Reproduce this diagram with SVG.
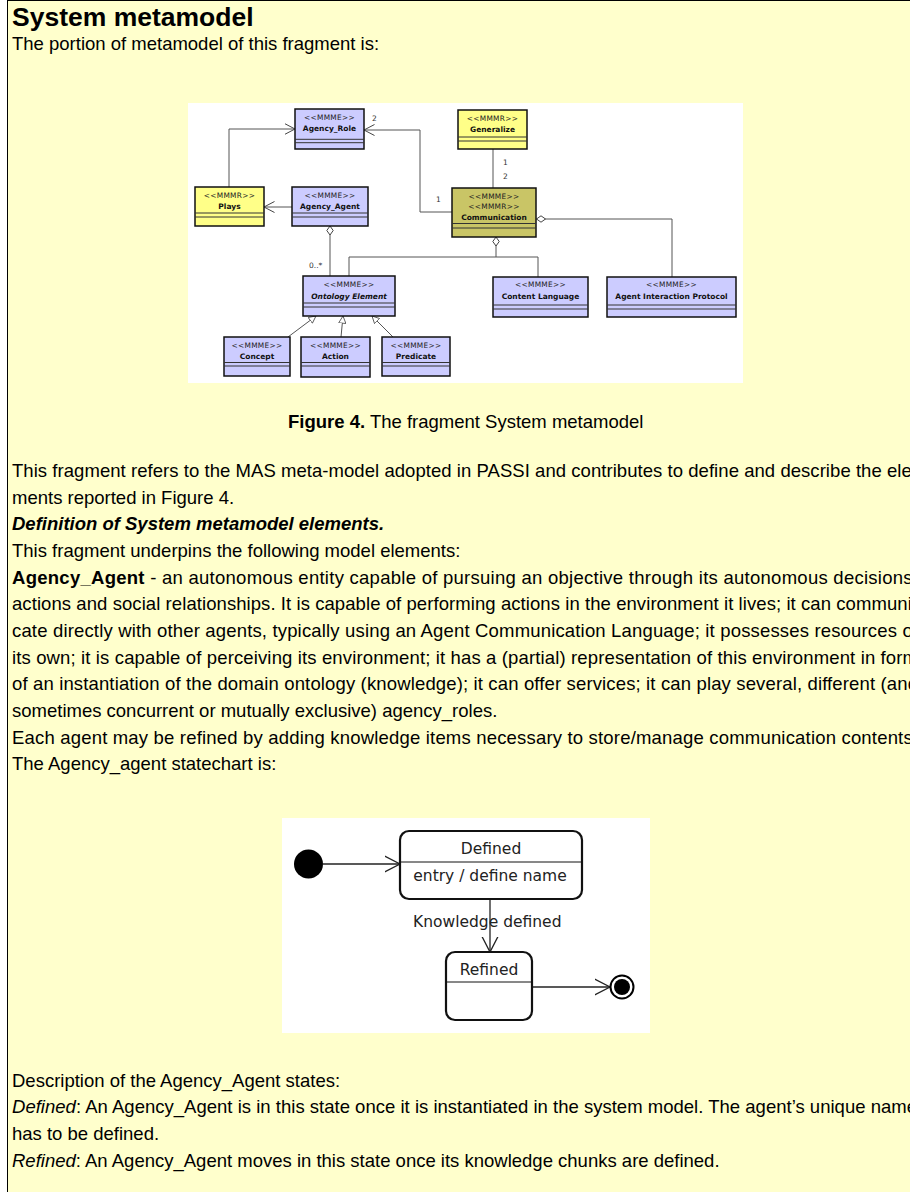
<svg xmlns="http://www.w3.org/2000/svg" width="910" height="1192" viewBox="0 0 910 1192">
<style>
.body{font-family:"Liberation Sans",Arial,Helvetica,sans-serif;font-size:18.5px;fill:#000}
.title{font-family:"Liberation Sans",Arial,Helvetica,sans-serif;font-size:26.5px;font-weight:bold;fill:#000}
.b{font-weight:bold}
.i{font-style:italic}
.box{stroke:#111;stroke-width:1.5}
.mmme{fill:#ccccff}
.mmmr{fill:#ffff88}
.comm{fill:#c9c566}
.div{stroke:#333;stroke-width:1;fill:none}
.st{font-family:"DejaVu Sans",Verdana,sans-serif;font-size:7.4px;letter-spacing:0.3px;fill:#222;text-anchor:middle}
.nm{font-family:"DejaVu Sans",Verdana,sans-serif;font-size:7.5px;font-weight:bold;fill:#111;text-anchor:middle}
.mult{font-family:"DejaVu Sans",Verdana,sans-serif;font-size:7.5px;fill:#333}
.conn{fill:none;stroke:#555;stroke-width:1}
.state{fill:#fff;stroke:#111;stroke-width:2.2}
.sdiv{stroke:#111;stroke-width:1}
.stxt{font-family:"DejaVu Sans",Verdana,sans-serif;font-size:15.5px;fill:#222}
.sconn{fill:none;stroke:#222;stroke-width:1.3}
</style>
<defs>
<marker id="open" markerUnits="userSpaceOnUse" viewBox="0 0 12 13" refX="10.5" refY="6.5" markerWidth="12" markerHeight="13" orient="auto">
<path d="M0,1 L10.5,6.5 L0,12" fill="none" stroke="#444" stroke-width="1"/>
</marker>
<marker id="tri" markerUnits="userSpaceOnUse" viewBox="0 0 10 10" refX="9.5" refY="5" markerWidth="8" markerHeight="8" orient="auto">
<path d="M0.5,0.5 L9.5,5 L0.5,9.5 Z" fill="#fff" stroke="#444" stroke-width="1"/>
</marker>
<marker id="dia" markerUnits="userSpaceOnUse" viewBox="-1 -4 11 8" refX="0" refY="0" markerWidth="11" markerHeight="8" orient="auto">
<path d="M0,0 L4.5,-3.2 L9,0 L4.5,3.2 Z" fill="#fff" stroke="#444" stroke-width="1"/>
</marker>
<marker id="sopen" markerUnits="userSpaceOnUse" viewBox="0 0 17 18" refX="15.5" refY="9" markerWidth="17" markerHeight="18" orient="auto">
<path d="M0,1 L15.5,9 L0,17" fill="none" stroke="#222" stroke-width="1.3"/>
</marker>
</defs>

<!-- page -->
<rect x="0" y="0" width="910" height="1192" fill="#fff"/>
<rect x="8" y="0" width="902" height="1192" fill="#ffffcc"/>
<line x1="7.5" y1="0" x2="7.5" y2="1192" stroke="#000" stroke-width="1"/>
<line x1="7.5" y1="0.5" x2="910" y2="0.5" stroke="#000" stroke-width="1"/>

<!-- text -->
<g id="text">
<text class="title" x="12" y="26">System metamodel</text>
<text class="body" x="12" y="50">The portion of metamodel of this fragment is:</text>
<text class="body" x="288" y="428"><tspan class="b">Figure 4.</tspan> The fragment System metamodel</text>
<text class="body" x="12" y="477" textLength="906" lengthAdjust="spacing">This fragment refers to the MAS meta-model adopted in PASSI and contributes to define and describe the ele-</text>
<text class="body" x="12" y="503.7">ments reported in Figure 4.</text>
<text class="body b i" x="12" y="530.3">Definition of System metamodel elements.</text>
<text class="body" x="12" y="557">This fragment underpins the following model elements:</text>
<text class="body" x="12" y="583.7" textLength="906" lengthAdjust="spacing"><tspan class="b">Agency_Agent</tspan> - an autonomous entity capable of pursuing an objective through its autonomous decisions,</text>
<text class="body" x="12" y="610.3" textLength="906" lengthAdjust="spacing">actions and social relationships. It is capable of performing actions in the environment it lives; it can communi-</text>
<text class="body" x="12" y="637" textLength="906" lengthAdjust="spacing">cate directly with other agents, typically using an Agent Communication Language; it possesses resources of</text>
<text class="body" x="12" y="663.7" textLength="906" lengthAdjust="spacing">its own; it is capable of perceiving its environment; it has a (partial) representation of this environment in form</text>
<text class="body" x="12" y="690.3" textLength="906" lengthAdjust="spacing">of an instantiation of the domain ontology (knowledge); it can offer services; it can play several, different (and</text>
<text class="body" x="12" y="717">sometimes concurrent or mutually exclusive) agency_roles.</text>
<text class="body" x="12" y="743.7" textLength="906" lengthAdjust="spacing">Each agent may be refined by adding knowledge items necessary to store/manage communication contents.</text>
<text class="body" x="12" y="770.3">The Agency_agent statechart is:</text>
<text class="body" x="12" y="1086.7">Description of the Agency_Agent states:</text>
<text class="body" x="12" y="1113.3" textLength="905" lengthAdjust="spacing"><tspan class="i">Defined</tspan>: An Agency_Agent is in this state once it is instantiated in the system model. The agent’s unique name</text>
<text class="body" x="12" y="1140">has to be defined.</text>
<text class="body" x="12" y="1166.7"><tspan class="i">Refined</tspan>: An Agency_Agent moves in this state once its knowledge chunks are defined.</text>
</g>

<!-- metamodel figure -->
<rect x="188" y="103" width="555" height="280" fill="#fff"/>

<g id="mm-connectors">
<path class="conn" d="M229,187 V129 H295" marker-end="url(#open)"/>
<path class="conn" d="M292,207 H264" marker-end="url(#open)"/>
<path class="conn" d="M452,212 H420 V130 H364" marker-end="url(#open)"/>
<path class="conn" d="M493,149 V188"/>
<path class="conn" d="M536.5,219 H672 V277" marker-start="url(#dia)"/>
<path class="conn" d="M496,237 V257" marker-start="url(#dia)"/>
<path class="conn" d="M349,276 V257 H538 V277"/>
<path class="conn" d="M330,226 V276" marker-start="url(#dia)"/>
<path class="conn" d="M288,337 L316,316" marker-end="url(#tri)"/>
<path class="conn" d="M341,337 L343,316" marker-end="url(#tri)"/>
<path class="conn" d="M393,337 L372,316" marker-end="url(#tri)"/>
<text class="mult" x="372" y="121">2</text>
<text class="mult" x="436" y="202">1</text>
<text class="mult" x="503" y="165">1</text>
<text class="mult" x="503" y="178.5">2</text>
<text class="mult" x="309" y="268">0..*</text>
</g>

<g id="agency-role">
<rect class="box mmme" x="295" y="109" width="69" height="40"/>
<text class="st" x="329.5" y="120">&lt;&lt;MMME&gt;&gt;</text>
<text class="nm" x="329.5" y="131">Agency_Role</text>
<path class="div" d="M295,139.3 H364 M295,142.7 H364"/>
</g>

<g id="plays">
<rect class="box mmmr" x="195" y="187" width="69" height="39"/>
<text class="st" x="229.5" y="198">&lt;&lt;MMMR&gt;&gt;</text>
<text class="nm" x="229.5" y="208.5">Plays</text>
<path class="div" d="M195,213 H264 M195,217 H264"/>
</g>

<g id="agency-agent">
<rect class="box mmme" x="292" y="187" width="76" height="39"/>
<text class="st" x="330" y="198">&lt;&lt;MMME&gt;&gt;</text>
<text class="nm" x="330" y="208.5">Agency_Agent</text>
<path class="div" d="M292,213 H368 M292,217 H368"/>
</g>

<g id="generalize">
<rect class="box mmmr" x="458" y="110" width="69" height="39"/>
<text class="st" x="492.5" y="120.5">&lt;&lt;MMMR&gt;&gt;</text>
<text class="nm" x="492.5" y="131.5">Generalize</text>
<path class="div" d="M458,137 H527 M458,141 H527"/>
</g>

<g id="communication">
<rect class="box comm" x="452" y="188" width="84" height="49"/>
<text class="st" x="494" y="199">&lt;&lt;MMME&gt;&gt;</text>
<text class="st" x="494" y="209">&lt;&lt;MMMR&gt;&gt;</text>
<text class="nm" x="494" y="219.5">Communication</text>
<path class="div" d="M452,223.5 H536 M452,228 H536"/>
</g>

<g id="ontology-element">
<rect class="box mmme" x="303" y="276" width="92" height="40"/>
<text class="st" x="349" y="287">&lt;&lt;MMME&gt;&gt;</text>
<text class="nm" x="349" y="298.5" font-style="italic">Ontology Element</text>
<path class="div" d="M303,303 H395 M303,307 H395"/>
</g>

<g id="content-language">
<rect class="box mmme" x="493" y="277" width="95" height="40"/>
<text class="st" x="540.5" y="287">&lt;&lt;MMME&gt;&gt;</text>
<text class="nm" x="540.5" y="299">Content Language</text>
<path class="div" d="M493,305 H588 M493,309 H588"/>
</g>

<g id="agent-interaction-protocol">
<rect class="box mmme" x="607" y="277" width="129" height="40"/>
<text class="st" x="671.5" y="287">&lt;&lt;MMME&gt;&gt;</text>
<text class="nm" x="671.5" y="299">Agent Interaction Protocol</text>
<path class="div" d="M607,305 H736 M607,309 H736"/>
</g>

<g id="concept">
<rect class="box mmme" x="224" y="337" width="66" height="39"/>
<text class="st" x="257" y="348">&lt;&lt;MMME&gt;&gt;</text>
<text class="nm" x="257" y="358.5">Concept</text>
<path class="div" d="M224,362.5 H290 M224,366 H290"/>
</g>

<g id="action">
<rect class="box mmme" x="301" y="337" width="69" height="40"/>
<text class="st" x="335.5" y="348">&lt;&lt;MMME&gt;&gt;</text>
<text class="nm" x="335.5" y="358.5">Action</text>
<path class="div" d="M301,362.5 H370 M301,366 H370"/>
</g>

<g id="predicate">
<rect class="box mmme" x="382" y="337" width="68" height="39"/>
<text class="st" x="416" y="348">&lt;&lt;MMME&gt;&gt;</text>
<text class="nm" x="416" y="358.5">Predicate</text>
<path class="div" d="M382,362.5 H450 M382,366 H450"/>
</g>

<!-- statechart -->
<rect x="282" y="818" width="368" height="215" fill="#fff"/>

<g id="sc-connectors">
<path class="sconn" d="M323,864 H400" marker-end="url(#sopen)"/>
<path class="sconn" d="M490,899 V952" marker-end="url(#sopen)"/>
<path class="sconn" d="M532,987 H610" marker-end="url(#sopen)"/>
<text class="stxt" x="413" y="926.5">Knowledge defined</text>
</g>

<g id="initial">
<circle cx="308.5" cy="864" r="14.5" fill="#000"/>
</g>

<g id="defined">
<rect class="state" x="400" y="831" width="182" height="68" rx="9"/>
<line class="sdiv" x1="400" y1="862" x2="582" y2="862"/>
<text class="stxt" x="491" y="854" text-anchor="middle">Defined</text>
<text class="stxt" x="490" y="881" text-anchor="middle">entry / define name</text>
</g>

<g id="refined">
<rect class="state" x="446" y="952" width="86" height="68" rx="9"/>
<line class="sdiv" x1="446" y1="982" x2="532" y2="982"/>
<text class="stxt" x="489" y="974.5" text-anchor="middle">Refined</text>
</g>

<g id="final">
<circle cx="622" cy="987" r="11.5" fill="#fff" stroke="#000" stroke-width="2"/>
<circle cx="622" cy="987" r="8" fill="#000"/>
</g>
</svg>
